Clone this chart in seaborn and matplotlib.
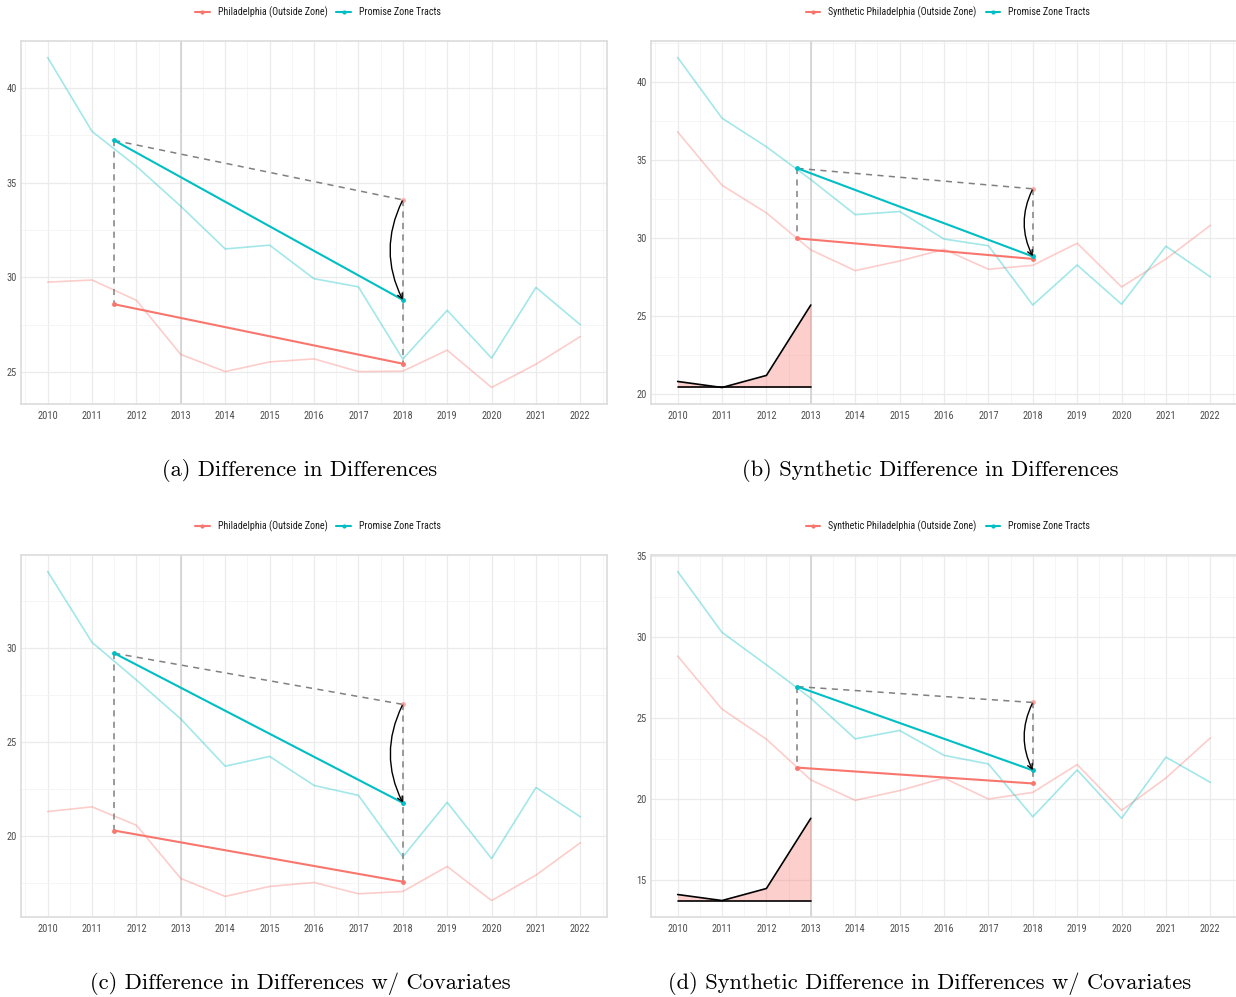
import numpy as np
import pandas as pd
import matplotlib
matplotlib.use("Agg")
import matplotlib.pyplot as plt
import seaborn as sns
from matplotlib.patches import FancyArrowPatch
from matplotlib.lines import Line2D
from matplotlib.ticker import MultipleLocator, FormatStrFormatter

# ---------------- data ----------------
years = list(range(2010, 2023))
treatment_year = 2013
n_pre = 4  # 2010-2013 pre period

promise_zone = [41.6, 37.7, 35.86, 33.75, 31.5, 31.7, 29.93, 29.5, 25.69, 28.26, 25.74, 29.47, 27.5]
philly_outside = [29.75, 29.86, 28.79, 25.93, 25.03, 25.54, 25.7, 25.03, 25.05, 26.16, 24.19, 25.42, 26.88]
synthetic_philly = [36.82, 33.39, 31.61, 29.23, 27.9, 28.52, 29.27, 27.99, 28.24, 29.66, 26.85, 28.65, 30.81]

promise_zone_cov = [34.07, 30.3, 28.3, 26.23, 23.72, 24.24, 22.7, 22.17, 18.9, 21.8, 18.81, 22.59, 21.03]
philly_outside_cov = [21.31, 21.56, 20.58, 17.75, 16.8, 17.33, 17.54, 16.94, 17.06, 18.39, 16.58, 17.93, 19.65]
synthetic_philly_cov = [28.84, 25.56, 23.7, 21.18, 19.92, 20.52, 21.3, 20.0, 20.41, 22.13, 19.3, 21.3, 23.78]

sdid_time_weights = [0.06, 0.0, 0.12, 0.82]

label_control = "Philadelphia (Outside Zone)"
label_synth = "Synthetic Philadelphia (Outside Zone)"
label_treated = "Promise Zone Tracts"

captions = ["(a) Difference in Differences",
            "(b) Synthetic Difference in Differences",
            "(c) Difference in Differences w/ Covariates",
            "(d) Synthetic Difference in Differences w/ Covariates"]

RED = "#F8766D"
TEAL = "#00BFC4"

sns.set_style("white")
plt.rcParams["font.family"] = ["Liberation Sans Narrow", "Roboto Condensed", "DejaVu Sans"]

W, H = 1236, 997
fig = plt.figure(figsize=(W / 100, H / 100), dpi=100)


def px_axes(x0, y0, x1, y1):
    return fig.add_axes([x0 / W, 1 - y1 / H, (x1 - x0) / W, (y1 - y0) / H])


def draw_panel(ax, control, treated, control_label, synthetic):
    yrs = np.array(years)
    control = np.array(control)
    treated = np.array(treated)
    df = pd.DataFrame({
        "year": np.concatenate([yrs, yrs]),
        "value": np.concatenate([control, treated]),
        "group": [control_label] * len(yrs) + [label_treated] * len(yrs),
    })
    pal = {control_label: RED, label_treated: TEAL}

    ax.axvline(treatment_year, color="#CFCFCF", lw=1.1, zorder=1)

    sns.lineplot(data=df, x="year", y="value", hue="group", palette=pal,
                 alpha=0.36, lw=1.2, legend=False, ax=ax, zorder=2)

    if synthetic:
        w = np.array(sdid_time_weights)
    else:
        w = np.ones(n_pre) / n_pre
    pre_x = float(np.dot(w, yrs[:n_pre]))
    post_x = float(np.mean(yrs[n_pre:]))
    t_pre = float(np.dot(w, treated[:n_pre]))
    c_pre = float(np.dot(w, control[:n_pre]))
    t_post = float(np.mean(treated[n_pre:]))
    c_post = float(np.mean(control[n_pre:]))
    cf = t_pre + (c_post - c_pre)

    allvals = np.concatenate([control, treated])
    lo, hi = allvals.min(), allvals.max()

    if synthetic:
        height = (hi - lo) / 3
        bottom = lo - height
        top = bottom + height * w / w.max()
        ax.fill_between(yrs[:n_pre], bottom, top, color=RED, alpha=0.35, lw=0, zorder=2)
        ax.plot(yrs[:n_pre], top, color="black", lw=1.2, zorder=3)
        ax.plot([yrs[0], yrs[n_pre - 1]], [bottom, bottom], color="black", lw=1.2, zorder=3)
        lo = bottom

    # dashed guides
    dash = dict(color="#808080", lw=1.1, ls=(0, (4, 3.5)), zorder=3)
    ax.plot([pre_x, post_x], [t_pre, cf], **dash)
    ax.plot([pre_x, pre_x], [t_pre, c_pre], **dash)
    ax.plot([post_x, post_x], [cf, c_post], **dash)

    seg = pd.DataFrame({
        "x": [pre_x, post_x, pre_x, post_x],
        "y": [c_pre, c_post, t_pre, t_post],
        "group": [control_label, control_label, label_treated, label_treated],
    })
    sns.lineplot(data=seg, x="x", y="y", hue="group", palette=pal, lw=1.5,
                 marker="o", markersize=3.5, markeredgewidth=0, legend=False,
                 ax=ax, zorder=4)
    ax.plot([post_x], [cf], "o", color=RED, alpha=0.6, ms=3.5, mew=0, zorder=4)

    arr = FancyArrowPatch((post_x, cf), (post_x, t_post),
                          connectionstyle="arc3,rad=0.25",
                          arrowstyle="->,head_length=3.5,head_width=1.8",
                          color="black", lw=1.0, zorder=5, shrinkA=1, shrinkB=0)
    ax.add_patch(arr)

    rng = hi - lo
    ax.set_ylim(lo - 0.05 * rng, hi + 0.05 * rng)
    ax.set_xlim(years[0] - 0.6, years[-1] + 0.6)

    ax.xaxis.set_major_locator(MultipleLocator(1))
    ax.xaxis.set_minor_locator(MultipleLocator(0.5))
    ax.yaxis.set_major_locator(MultipleLocator(5))
    ax.yaxis.set_minor_locator(MultipleLocator(2.5))
    ax.yaxis.set_major_formatter(FormatStrFormatter("%d"))
    ax.xaxis.set_major_formatter(FormatStrFormatter("%d"))
    ax.grid(which="major", color="#EBEBEB", lw=0.9)
    ax.grid(which="minor", color="#F4F4F4", lw=0.6)
    ax.set_axisbelow(True)
    ax.tick_params(which="both", length=0, labelsize=7.5, labelcolor="#4D4D4D")
    ax.tick_params(axis="x", pad=5)
    ax.tick_params(axis="y", pad=3)
    for s in ax.spines.values():
        s.set_color("#DCDCDC")
        s.set_linewidth(1.2)
    ax.set_xlabel("")
    ax.set_ylabel("")


def add_legend(cx, cy, control_label):
    handles = [Line2D([], [], color=RED, lw=1.5, marker="o", ms=3, mew=0),
               Line2D([], [], color=TEAL, lw=1.5, marker="o", ms=3, mew=0)]
    fig.legend(handles, [control_label, label_treated], loc="center",
               bbox_to_anchor=(cx / W, 1 - cy / H), ncol=2, frameon=False,
               fontsize=7.2, handlelength=1.45, handletextpad=0.8,
               columnspacing=0.9, labelcolor="#1A1A1A")


panels = [
    ((21, 41, 607, 404), philly_outside, promise_zone, label_control, False, (318, 12), (300, 470)),
    ((651, 41, 1237, 404), synthetic_philly, promise_zone, label_synth, True, (948, 12), (930, 470)),
    ((21, 555, 607, 917), philly_outside_cov, promise_zone_cov, label_control, False, (318, 526), (300, 983)),
    ((651, 555, 1237, 917), synthetic_philly_cov, promise_zone_cov, label_synth, True, (948, 526), (930, 983)),
]

for i, (box, ctrl, trt, lab, syn, leg, cap) in enumerate(panels):
    ax = px_axes(*box)
    draw_panel(ax, ctrl, trt, lab, syn)
    add_legend(leg[0], leg[1], lab)
    fig.text(cap[0] / W, 1 - cap[1] / H, captions[i], family="cmr10",
             fontsize=16.2, ha="center", va="center", color="black")

fig.savefig("out.png", dpi=100)
